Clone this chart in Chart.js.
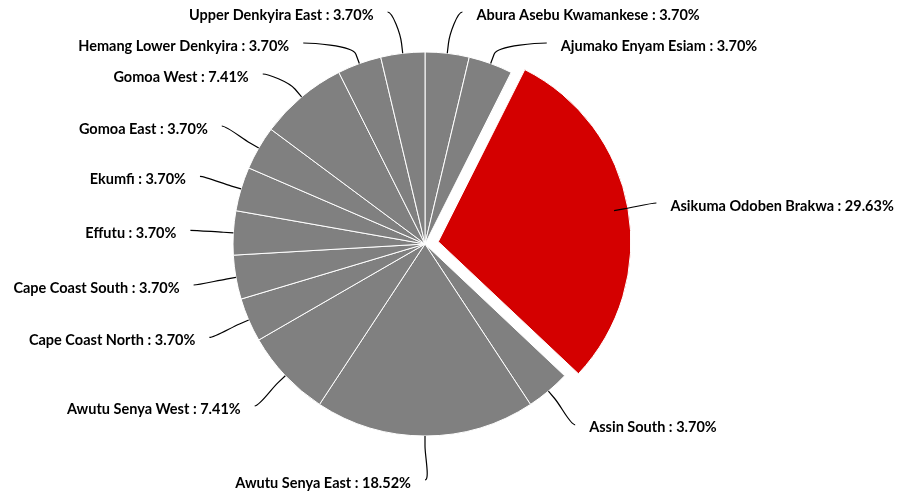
<!DOCTYPE html>
<html>
<head>
<meta charset="utf-8">
<script src="https://cdn.jsdelivr.net/npm/chart.js@4.4.1/dist/chart.umd.min.js"></script>
<style>
  html, body { margin: 0; padding: 0; background: #ffffff; }
  #wrap { width: 901px; height: 493px; }
</style>
</head>
<body>
<div id="wrap"><canvas id="c" width="901" height="493"></canvas></div>
<script>
const categories = [
  "Abura Asebu Kwamankese",
  "Ajumako Enyam Esiam",
  "Asikuma Odoben Brakwa",
  "Assin South",
  "Awutu Senya East",
  "Awutu Senya West",
  "Cape Coast North",
  "Cape Coast South",
  "Effutu",
  "Ekumfi",
  "Gomoa East",
  "Gomoa West",
  "Hemang Lower Denkyira",
  "Upper Denkyira East"
];
const values = [1, 1, 8, 1, 5, 2, 1, 1, 1, 1, 1, 2, 1, 1];

const GREY = "#808080";
const RED = "#d40000";
const FONT = "bold 14.5px Lato";
const maxIndex = values.indexOf(Math.max(...values));

const labelPlugin = {
  id: "pieLabels",
  afterDatasetsDraw(chart) {
    const ctx = chart.ctx;
    const meta = chart.getDatasetMeta(0);
    const total = values.reduce((a, b) => a + b, 0);
    const RY = 236, RX = 235, GAP = 31, MINY = 12;
    const items = meta.data.map((arc, i) => {
      const p = arc.getProps(["x", "y", "startAngle", "endAngle", "outerRadius"], true);
      const mid = (p.startAngle + p.endAngle) / 2;
      const left = Math.cos(mid) < 1e-9;
      return { i, cx: p.x, cy: p.y, r: p.outerRadius, mid, left, y: p.y + RY * Math.sin(mid) };
    });
    [true, false].forEach(side => {
      const list = items.filter(it => it.left === side).sort((a, b) => a.y - b.y);
      let prev = -Infinity;
      list.forEach(it => {
        it.y = Math.max(it.y, prev + GAP, MINY);
        prev = it.y;
      });
    });
    ctx.save();
    ctx.font = FONT;
    ctx.textBaseline = "middle";
    items.forEach(it => {
      const dy = it.y - it.cy;
      const dx = Math.sqrt(Math.max(0, RX * RX - dy * dy));
      const lx = it.cx + (it.left ? -dx : dx);
      const ly = it.y;
      const dirx = Math.cos(it.mid), diry = Math.sin(it.mid);
      const tx = it.cx + it.r * dirx, ty = it.cy + it.r * diry;
      const bx = it.cx + (it.r + 10) * dirx, by = it.cy + (it.r + 10) * diry;
      ctx.beginPath();
      ctx.moveTo(lx, ly);
      ctx.bezierCurveTo(lx + (it.left ? 5 : -5), ly, 2 * bx - tx, 2 * by - ty, bx, by);
      ctx.lineTo(tx, ty);
      ctx.strokeStyle = "#000000";
      ctx.lineWidth = 1.2;
      ctx.stroke();
      const pct = (values[it.i] / total * 100).toFixed(2) + "%";
      const text = categories[it.i] + " : " + pct;
      ctx.fillStyle = "#000000";
      ctx.textAlign = it.left ? "right" : "left";
      ctx.fillText(text, lx + (it.left ? -14 : 14), ly + 3);
    });
    ctx.restore();
  }
};

new Chart(document.getElementById("c"), {
  type: "pie",
  data: {
    labels: categories,
    datasets: [{
      data: values,
      backgroundColor: ctx => ctx.dataIndex === maxIndex ? RED : GREY,
      borderColor: "#ffffff",
      borderWidth: 1,
      offset: ctx => ctx.dataIndex === maxIndex ? 54 : 0,
      hoverOffset: 0
    }]
  },
  options: {
    responsive: false,
    animation: false,
    devicePixelRatio: 1,
    radius: 192,
    layout: { padding: { left: 0, right: 51, top: 0, bottom: 5 } },
    plugins: {
      legend: { display: false },
      tooltip: { enabled: false }
    },
    events: []
  },
  plugins: [labelPlugin]
});
</script>
</body>
</html>
